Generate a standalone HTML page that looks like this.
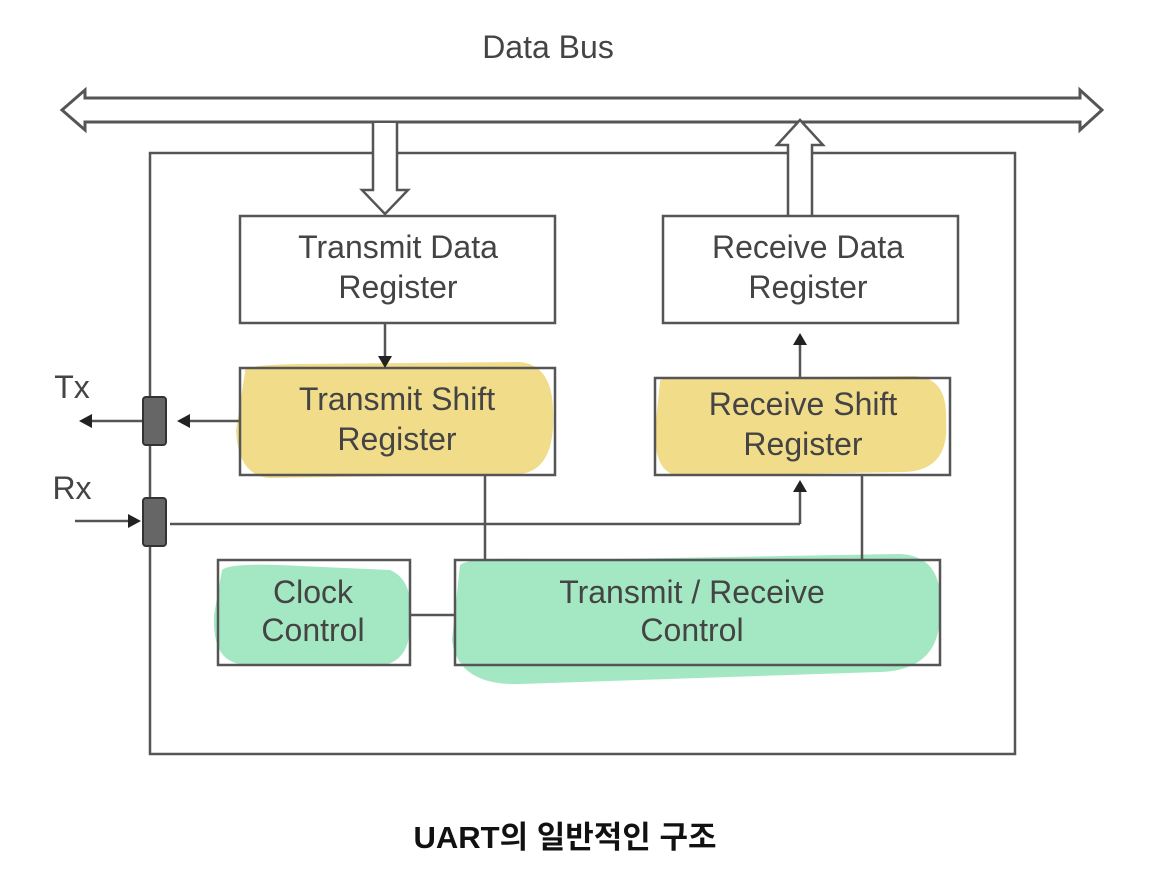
<!DOCTYPE html>
<html><head><meta charset="utf-8"><style>
html,body{margin:0;padding:0;background:#fff;}
svg{display:block;}
text{font-family:"Liberation Sans","DejaVu Sans",sans-serif;fill:#444;}
</style></head><body>
<svg width="1171" height="887" viewBox="0 0 1171 887" xmlns="http://www.w3.org/2000/svg">
<!-- highlights -->
<path d="M245,372 Q240,365 300,364 L520,362 Q552,365 553,410 Q556,470 520,474 L270,478 Q238,476 236,430 Z" fill="#f1dc8a"/>
<path d="M660,382 Q655,376 720,378 L915,376 Q948,378 946,420 Q950,470 905,472 L680,476 Q654,474 655,430 Z" fill="#f1dc8a"/>
<path d="M222,570 Q230,562 300,566 L390,570 Q414,580 410,620 Q412,668 370,666 L240,664 Q212,660 214,615 Z" fill="#a4e8c3"/>
<path d="M460,565 Q470,556 560,560 L900,554 Q944,556 940,610 Q942,670 880,672 L520,684 Q458,686 452,640 Z" fill="#a4e8c3"/>
<g fill="none" stroke="#555" stroke-width="2.5">
<!-- bus -->
<path d="M62,110 L85,90 L85,98 L1080,98 L1080,90 L1102,110 L1080,130 L1080,122 L85,122 L85,130 Z" stroke-width="3"/>
<!-- outer box -->
<rect x="150" y="153" width="865" height="601"/>
<!-- down hollow arrow -->
<path d="M373,123 L373,190 L362,190 L385,214 L408,190 L397,190 L397,123" fill="#fff"/>
<!-- up hollow arrow -->
<path d="M788,215 L788,145 L777,145 L800,120 L823,145 L812,145 L812,215" fill="#fff"/>
<rect x="240" y="216" width="315" height="107" fill="#fff"/>
<rect x="663" y="216" width="295" height="107" fill="#fff"/>
<rect x="240" y="368" width="315" height="107"/>
<rect x="655" y="378" width="295" height="97"/>
<rect x="218" y="560" width="192" height="105"/>
<rect x="455" y="560" width="485" height="105"/>
<line x1="385" y1="323" x2="385" y2="358"/>
<line x1="800" y1="378" x2="800" y2="340"/>
<line x1="240" y1="421" x2="190" y2="421"/>
<line x1="143" y1="421" x2="90" y2="421"/>
<line x1="75" y1="521" x2="130" y2="521"/>
<line x1="170" y1="524" x2="800" y2="524"/>
<line x1="800" y1="524" x2="800" y2="490"/>
<line x1="485" y1="475" x2="485" y2="560"/>
<line x1="862" y1="475" x2="862" y2="560"/>
<line x1="410" y1="615" x2="455" y2="615"/>
</g>
<g fill="#222">
<path d="M378,356 L392,356 L385,368 Z"/>
<path d="M793,345 L807,345 L800,333 Z"/>
<path d="M793,492 L807,492 L800,480 Z"/>
<path d="M190,414 L190,428 L177,421 Z"/>
<path d="M92,414 L92,428 L79,421 Z"/>
<path d="M128,514 L128,528 L141,521 Z"/>
</g>
<rect x="143" y="397" width="23" height="48" rx="3" fill="#666" stroke="#333" stroke-width="2"/>
<rect x="143" y="498" width="23" height="48" rx="3" fill="#666" stroke="#333" stroke-width="2"/>
<g font-size="32" text-anchor="middle">
<text x="548" y="58">Data Bus</text>
<text x="398" y="258">Transmit  Data</text>
<text x="398" y="298">Register</text>
<text x="808" y="258">Receive Data</text>
<text x="808" y="298">Register</text>
<text x="397" y="410">Transmit  Shift</text>
<text x="397" y="450">Register</text>
<text x="803" y="415">Receive Shift</text>
<text x="803" y="455">Register</text>
<text x="313" y="603">Clock</text>
<text x="313" y="641">Control</text>
<text x="692" y="603">Transmit  / Receive</text>
<text x="692" y="641">Control</text>
<text x="72" y="398">Tx</text>
<text x="72" y="499">Rx</text>
</g>
<text x="565" y="848" font-size="31" font-weight="bold" text-anchor="middle" style="fill:#111;font-family:'Liberation Sans','Noto Sans CJK KR',sans-serif">UART의 일반적인 구조</text>
</svg>
</body></html>
